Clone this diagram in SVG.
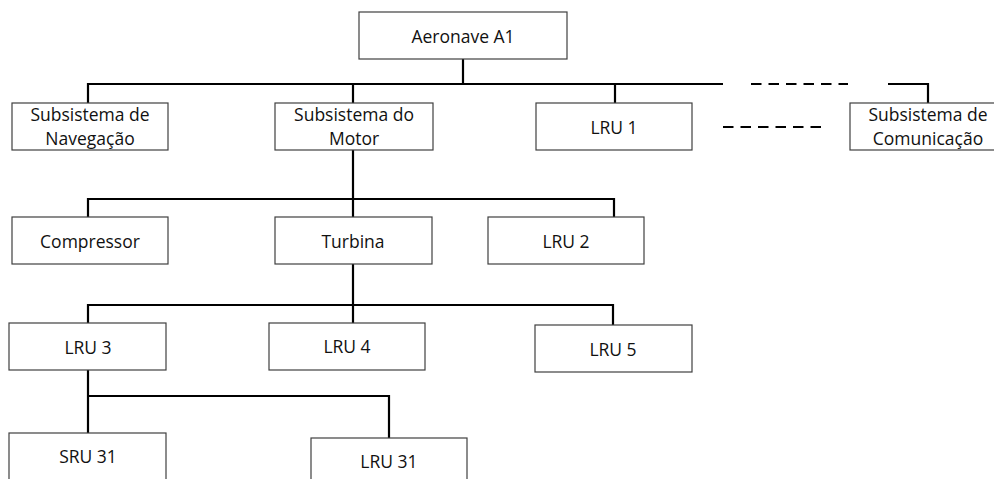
<svg xmlns="http://www.w3.org/2000/svg" width="994" height="479" viewBox="0 0 994 479">
<style>
.box{fill:#fff;stroke:#404040;stroke-width:1.2}
.t{font-family:"Open Sans","Liberation Sans",sans-serif;font-size:17.5px;fill:#111;text-anchor:middle}
.c{fill:none;stroke:#000;stroke-width:2.2}
.d{fill:none;stroke:#000;stroke-width:2.2;stroke-dasharray:10.5 7}
</style>
<rect width="994" height="479" fill="#fff"/>
<g id="connectors">
<path class="c" d="M463 59V84M88 103V84H723M353 84V103M615 84V103M888 84H928V103"/>
<path class="d" d="M751 84H848"/>
<path class="d" d="M723 127H822"/>
<path class="c" d="M353 150V217M88 217V199H614V217"/>
<path class="c" d="M353 264V323M88 323V305H613V325"/>
<path class="c" d="M88 370V433M88 396H389V438"/>
</g>
<g id="aeronave"><rect class="box" x="359" y="12" width="208" height="47"/><text class="t" x="463" y="43">Aeronave A1</text></g>
<g id="navegacao"><rect class="box" x="12" y="103" width="156" height="47"/><text class="t" x="90" y="121">Subsistema de</text><text class="t" x="90" y="145">Navegação</text></g>
<g id="motor"><rect class="box" x="275" y="103" width="158" height="47"/><text class="t" x="354" y="121">Subsistema do</text><text class="t" x="354" y="145">Motor</text></g>
<g id="lru1"><rect class="box" x="536" y="103" width="156" height="47"/><text class="t" x="614" y="134">LRU 1</text></g>
<g id="comunicacao"><rect class="box" x="850" y="103" width="156" height="47"/><text class="t" x="928" y="121">Subsistema de</text><text class="t" x="928" y="145">Comunicação</text></g>
<g id="compressor"><rect class="box" x="12" y="217" width="156" height="47"/><text class="t" x="90" y="248">Compressor</text></g>
<g id="turbina"><rect class="box" x="275" y="217" width="157" height="47"/><text class="t" x="353" y="248">Turbina</text></g>
<g id="lru2"><rect class="box" x="488" y="217" width="156" height="47"/><text class="t" x="566" y="248">LRU 2</text></g>
<g id="lru3"><rect class="box" x="9" y="323" width="157" height="47"/><text class="t" x="88" y="354">LRU 3</text></g>
<g id="lru4"><rect class="box" x="269" y="323" width="156" height="47"/><text class="t" x="347" y="353">LRU 4</text></g>
<g id="lru5"><rect class="box" x="535" y="325" width="157" height="47"/><text class="t" x="613" y="356">LRU 5</text></g>
<g id="sru31"><rect class="box" x="9" y="433" width="157" height="50"/><text class="t" x="88" y="463">SRU 31</text></g>
<g id="lru31"><rect class="box" x="311" y="438" width="156" height="50"/><text class="t" x="389" y="468">LRU 31</text></g>
</svg>
